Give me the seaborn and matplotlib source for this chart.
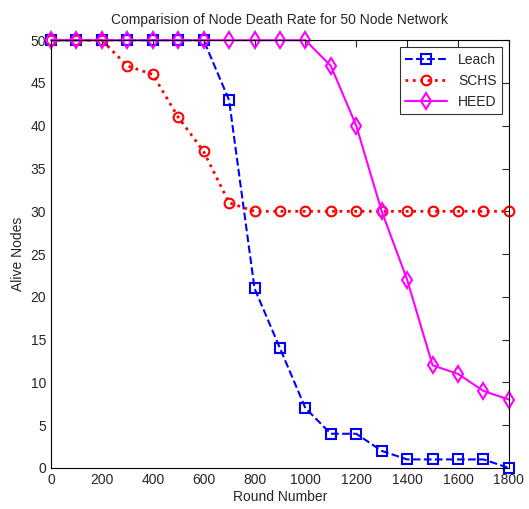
import numpy as np
import pandas as pd
import matplotlib
matplotlib.use("Agg")
import matplotlib.pyplot as plt
import seaborn as sns

rounds = list(range(0, 1900, 100))
leach = [50, 50, 50, 50, 50, 50, 50, 43, 21, 14, 7, 4, 4, 2, 1, 1, 1, 1, 0]
schs = [50, 50, 50, 47, 46, 41, 37, 31, 30, 30, 30, 30, 30, 30, 30, 30, 30, 30, 30]
heed = [50, 50, 50, 50, 50, 50, 50, 50, 50, 50, 50, 47, 40, 30, 22, 12, 11, 9, 8]

sns.set_style("white")
plt.rcParams['font.family'] = ['Liberation Sans', 'DejaVu Sans']

fig = plt.figure(figsize=(5.29, 5.09), dpi=100)
ax = fig.add_axes([0.0964, 0.0806, 0.8656, 0.8404])

sns.lineplot(x=rounds, y=leach, ax=ax, color="blue", linestyle="--", marker="s",
             markersize=7, markerfacecolor="none", markeredgecolor="blue",
             markeredgewidth=1.5, linewidth=1.5, label="Leach", clip_on=False)
sns.lineplot(x=rounds, y=schs, ax=ax, color="red", linestyle=":", marker="o",
             markersize=7, markerfacecolor="none", markeredgecolor="red",
             markeredgewidth=1.5, linewidth=2, label="SCHS", clip_on=False)
sns.lineplot(x=rounds, y=heed, ax=ax, color="magenta", linestyle="-", marker="d",
             markersize=8, markerfacecolor="none", markeredgecolor="magenta",
             markeredgewidth=1.5, linewidth=1.5, label="HEED", clip_on=False)

ax.set_xlim(0, 1800)
ax.set_ylim(0, 50)
ax.set_xticks(range(0, 1900, 200))
ax.set_yticks(range(0, 55, 5))
ax.tick_params(direction="in", top=True, right=True, labelsize=10, length=5)
for s in ax.spines.values():
    s.set_color("black")
    s.set_linewidth(0.8)

ax.set_title("Comparision of Node Death Rate for 50 Node Network", fontsize=10, pad=12)
ax.set_xlabel("Round Number", fontsize=10, labelpad=2)
ax.set_ylabel("Alive Nodes", fontsize=10)

leg = ax.legend(loc="upper right", fontsize=10, frameon=True, fancybox=False,
                edgecolor="black", handlelength=3)
leg.get_frame().set_linewidth(0.8)
leg.set_zorder(10)

fig.savefig("out.png", dpi=100)
